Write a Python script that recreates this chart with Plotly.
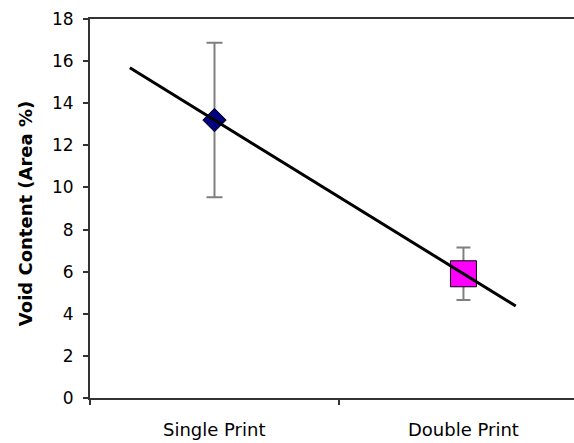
import numpy as np
import plotly.graph_objects as go

categories = ["Single Print", "Double Print"]
void_mean = [13.2, 5.9]
void_err = [3.67, 1.25]
marker_symbols = ["diamond", "square"]
marker_colors = ["#000080", "#FF00FF"]
marker_sizes = [18, 26]
cap_widths = [8, 7]
trend_backward = 0.34
trend_forward = 0.21
y_ticks = list(range(0, 19, 2))

xs = np.arange(len(categories))
fig = go.Figure()
for i, cat in enumerate(categories):
    fig.add_trace(go.Scatter(
        x=[xs[i]], y=[void_mean[i]], mode="markers", name=cat,
        marker=dict(symbol=marker_symbols[i], color=marker_colors[i],
                    size=marker_sizes[i], line=dict(color="black", width=1)),
        error_y=dict(type="data", array=[void_err[i]], visible=True,
                     color="#808080", thickness=2, width=cap_widths[i]),
        showlegend=False))

slope, intercept = np.polyfit(xs, void_mean, 1)
tx = np.array([xs[0] - trend_backward, xs[-1] + trend_forward])
fig.add_trace(go.Scatter(x=tx, y=slope * tx + intercept, mode="lines",
                         line=dict(color="black", width=3), showlegend=False))

for i, cat in enumerate(categories):
    fig.add_annotation(x=xs[i], xref="x", y=0, yref="paper", yshift=-31,
                       text=cat, showarrow=False, yanchor="middle",
                       font=dict(family="DejaVu Sans", size=18, color="black"))

fig.add_annotation(x=0, xref="paper", xshift=-65, y=0.485, yref="paper",
                   text="<b>Void Content (Area %)</b>", textangle=-90,
                   showarrow=False, xanchor="center", yanchor="middle",
                   font=dict(family="DejaVu Sans", size=18, color="black"))

fig.update_layout(
    width=574, height=443, margin=dict(l=90, r=0, t=19, b=45),
    plot_bgcolor="white", paper_bgcolor="white",
    xaxis=dict(range=[-0.5, 1.444], tickvals=[-0.5, 0.5, 1.5],
               ticktext=["", "", ""], ticks="outside", ticklen=5,
               tickcolor="#333", tickwidth=2, showgrid=False, zeroline=False,
               showline=True, linecolor="#333", linewidth=2, mirror=True),
    yaxis=dict(range=[0, 18], tickvals=y_ticks, ticks="outside", ticklen=5,
               tickcolor="#333", tickwidth=2, showgrid=False, zeroline=False,
               showline=True, linecolor="#333", linewidth=2,
               ticklabelstandoff=6,
               tickfont=dict(family="DejaVu Sans", size=17, color="black")),
)
fig.write_html("out.html")
